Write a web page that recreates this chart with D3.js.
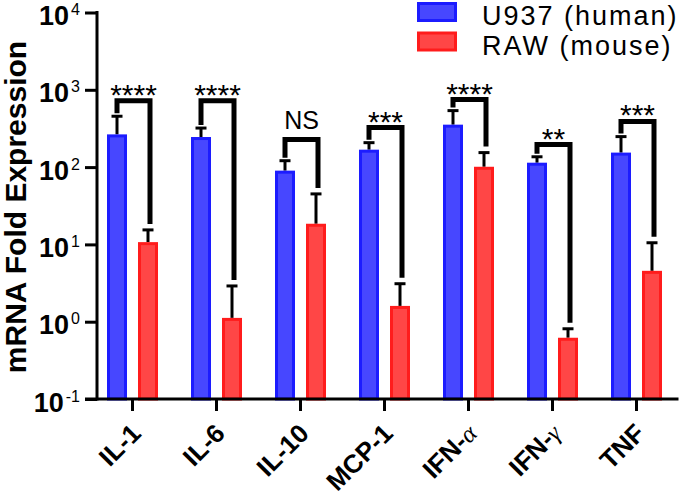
<!DOCTYPE html>
<html><head><meta charset="utf-8">
<script src="https://cdn.jsdelivr.net/npm/d3@7"></script>
<style>body{margin:0;background:#fff}svg{display:block}text{font-family:"Liberation Sans",Arial,sans-serif}</style>
</head><body>
<svg id="c" width="687" height="500"></svg>
<script>
const categories = ["IL-1","IL-6","IL-10","MCP-1","IFN-α","IFN-γ","TNF"];
const series = ["U937 (human)","RAW (mouse)"];
const u937Mean = [265, 245, 90, 168, 354, 114, 154];
const u937SD   = [190, 75, 31, 39, 184, 22, 94];
const rawMean  = [10.7, 1.12, 18.5, 1.6, 101, 0.62, 4.55];
const rawSD    = [4.7, 1.78, 26.5, 1.5, 53, 0.19, 5.95];
const significance = ["****","****","NS","***","****","**","***"];
const bracketLevel = [720, 720, 228, 325, 749, 196, 389];
const yTicks = [0.1, 1, 10, 100, 1000, 10000];
const yTickExp = ["-1","0","1","2","3","4"];

const colors = {fill:["#4747ff","#ff4646"], stroke:["#1c1cff","#ff1c1c"]};
const svg = d3.select("#c");
const x0 = d3.scaleBand().domain(categories).range([90.5, 678.5]).padding(0);
const x1 = d3.scaleBand().domain(series).range([11, 73]).padding(0);
const y = d3.scaleLog().domain([0.1, 10000]).range([399, 12.5]);
const barW = 20;
const cx = (c, s) => x0(c) + x1(series[s]) + x1.bandwidth()/2;

const means = [u937Mean, rawMean], sds = [u937SD, rawSD];
const rows = [];
categories.forEach((c,i)=>{ [0,1].forEach(s=>rows.push({c,i,s,m:means[s][i],sd:sds[s][i]})); });

// error bars (drawn first, bars on top)
const eg = svg.append("g");
rows.forEach(r=>{
  const xc = cx(r.c, r.s), top = y(r.m + r.sd);
  eg.append("line").attr("x1",xc).attr("x2",xc).attr("y1",y(r.m)).attr("y2",top).attr("stroke","#000").attr("stroke-width",3);
  eg.append("line").attr("x1",xc-5.5).attr("x2",xc+5.5).attr("y1",top).attr("y2",top).attr("stroke","#000").attr("stroke-width",3);
});

// bars
svg.append("g").selectAll("rect").data(rows).join("rect")
  .attr("x", d=>cx(d.c,d.s)-barW/2+1.5)
  .attr("y", d=>y(d.m)+1.5)
  .attr("width", barW-3)
  .attr("height", d=>y(0.1)-y(d.m)-1.5)
  .attr("fill", d=>colors.fill[d.s])
  .attr("stroke", d=>colors.stroke[d.s])
  .attr("stroke-width",3);

// significance brackets
const bg = svg.append("g");
categories.forEach((c,i)=>{
  const xl = cx(c,0), xr = cx(c,1)+2;
  const yb = y(bracketLevel[i]);
  const yl = y(u937Mean[i]+u937SD[i]) - 3;
  const yr = y(rawMean[i]+rawSD[i]) - 6;
  bg.append("path").attr("d",`M${xl},${yl}V${yb}H${xr}V${yr}`)
    .attr("fill","none").attr("stroke","#000").attr("stroke-width",5).attr("stroke-linejoin","miter");
  const isNS = significance[i]==="NS";
  bg.append("text").attr("x",(xl+xr)/2).attr("y", isNS? yb-10 : yb+4)
    .attr("text-anchor","middle").attr("font-size", isNS?25:30)
    .text(significance[i]);
});

// y axis
const yAxis = d3.axisLeft(y).tickValues(yTicks).tickFormat("").tickSize(12).tickSizeOuter(0);
const ya = svg.append("g").attr("transform","translate(97,0)").call(yAxis);
ya.selectAll("path,line").attr("stroke","#000").attr("stroke-width",3);
ya.select(".domain").attr("d",`M0,${y(0.1)+1.5}V${y(10000)-1.5}`);
yTicks.forEach((t,k)=>{
  const tx = svg.append("text").attr("x",80).attr("y",y(t)+12.5).attr("text-anchor","end")
    .attr("font-weight","bold").attr("font-size",27);
  tx.append("tspan").text("10");
  tx.append("tspan").attr("dx",2).attr("dy",-10).attr("font-size",16).attr("font-weight","normal").text(yTickExp[k]);
});

// x axis
const xAxis = d3.axisBottom(x0).tickFormat("").tickSize(12).tickSizeOuter(0);
const xa = svg.append("g").attr("transform",`translate(0,${y(0.1)})`).call(xAxis);
xa.selectAll("path,line").attr("stroke","#000").attr("stroke-width",3);
xa.select(".domain").attr("d",`M85,0H${x0.range()[1]}`);
categories.forEach(c=>{
  const t = svg.append("text")
    .attr("transform",`translate(${x0(c)+x0.bandwidth()/2+10},435) rotate(-45)`)
    .attr("text-anchor","end").attr("font-weight","bold").attr("font-size",26);
  const m = c.match(/^(.*-)([αγ])$/);
  if (m) {
    t.append("tspan").text(m[1]);
    t.append("tspan").attr("font-family","'Liberation Serif',serif").attr("font-style","italic")
      .attr("font-weight","normal").attr("font-size",25).text(m[2]);
  } else t.text(c);
});

// y title
svg.append("text").attr("transform","translate(26,207) rotate(-90)").attr("text-anchor","middle")
  .attr("font-weight","bold").attr("font-size",30).text("mRNA Fold Expression");

// legend
series.forEach((s,k)=>{
  const ly = 12 + k*29.5;
  svg.append("rect").attr("x",418.5).attr("y",ly-8.5).attr("width",37).attr("height",17)
    .attr("fill",colors.fill[k]).attr("stroke",colors.stroke[k]).attr("stroke-width",3);
  svg.append("text").attr("x",482).attr("y",ly+13).attr("font-size",27).attr("letter-spacing",2).text(s);
});
</script>
</body></html>
